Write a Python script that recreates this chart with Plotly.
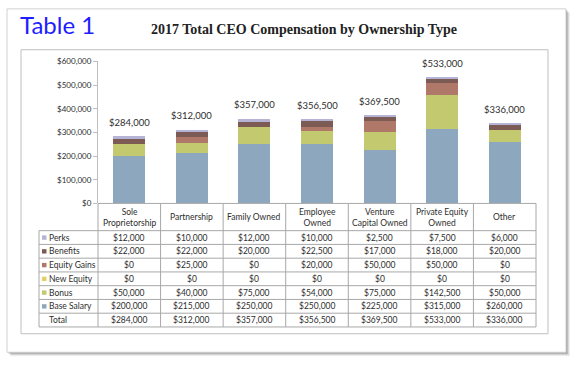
import plotly.graph_objects as go

W, H = 574, 366

categories = ["Sole Proprietorship", "Partnership", "Family Owned", "Employee Owned",
              "Venture Capital Owned", "Private Equity Owned", "Other"]
header_labels = ["Sole<br>Proprietorship", "Partnership", "Family Owned", "Employee<br>Owned",
                 "Venture<br>Capital Owned", "Private Equity<br>Owned", "Other"]

base_salary = [200000, 215000, 250000, 250000, 225000, 315000, 260000]
bonus = [50000, 40000, 75000, 54000, 75000, 142500, 50000]
new_equity = [0, 0, 0, 0, 0, 0, 0]
equity_gains = [0, 25000, 0, 20000, 50000, 50000, 0]
benefits = [22000, 22000, 20000, 22500, 17000, 18000, 20000]
perks = [12000, 10000, 12000, 10000, 2500, 7500, 6000]
totals = [284000, 312000, 357000, 356500, 369500, 533000, 336000]

y_ticks = [0, 100000, 200000, 300000, 400000, 500000, 600000]

series = [
    ("Base Salary", base_salary, "#8DA7BF"),
    ("Bonus", bonus, "#C3C96F"),
    ("New Equity", new_equity, "#E6CF6A"),
    ("Equity Gains", equity_gains, "#AF7868"),
    ("Benefits", benefits, "#7C5B55"),
    ("Perks", perks, "#B5B4D6"),
]

FONT = "Lato"
TXT = "#2e2e2e"
GRID = "#A8A8A8"


def px(x):
    return x / W


def py(y):
    return 1 - y / H


def money(v):
    return f"${v:,.0f}"


fig = go.Figure()

for name, vals, col in series:
    fig.add_trace(go.Bar(x=categories, y=vals, name=name, marker_color=col,
                         marker_line_width=0, width=0.51, showlegend=False))

for c, t in zip(categories, totals):
    fig.add_annotation(x=c, y=t, xref="x", yref="y", text=money(t), showarrow=False,
                       yshift=14, font=dict(family=FONT, size=9.5, color=TXT))

# ---- data table drawn under the plot ----
X_LEG, X0, X1 = 39, 98, 536
Y_HEAD_TOP, Y_HEAD_BOT = 204, 232
ROW_H = (331 - 232) / 7
row_order = [("Perks", perks), ("Benefits", benefits), ("Equity Gains", equity_gains),
             ("New Equity", new_equity), ("Bonus", bonus), ("Base Salary", base_salary)]
color_of = {n: c for n, _, c in series}

shapes = []
# card shadow + card
for i, op in enumerate([0.06, 0.09, 0.13, 0.18]):
    d = 4 - i
    shapes.append(dict(type="rect", xref="paper", yref="paper",
                       x0=px(7 + d), x1=px(566 + d), y0=py(357 + d), y1=py(4 + d),
                       fillcolor=f"rgba(0,0,0,{op})", line_width=0, layer="below"))
shapes.append(dict(type="rect", xref="paper", yref="paper",
                   x0=px(7), x1=px(566), y0=py(357), y1=py(4),
                   fillcolor="white", line=dict(color="#D0D0D0", width=1), layer="below"))
shapes.append(dict(type="rect", xref="paper", yref="paper",
                   x0=px(21), x1=px(548), y0=py(338), y1=py(46),
                   fillcolor="rgba(0,0,0,0)", line=dict(color="#BFBFBF", width=1), layer="below"))

col_w = (X1 - X0) / len(categories)
# header lines
shapes.append(dict(type="line", xref="paper", yref="paper", x0=px(X0), x1=px(X1),
                   y0=py(Y_HEAD_TOP), y1=py(Y_HEAD_TOP), line=dict(color=GRID, width=1)))
for k in range(len(categories) + 1):
    xx = X0 + k * col_w
    shapes.append(dict(type="line", xref="paper", yref="paper", x0=px(xx), x1=px(xx),
                       y0=py(Y_HEAD_TOP), y1=py(Y_HEAD_BOT + 7 * ROW_H),
                       line=dict(color=GRID, width=1)))
shapes.append(dict(type="line", xref="paper", yref="paper", x0=px(X_LEG), x1=px(X_LEG),
                   y0=py(Y_HEAD_BOT), y1=py(Y_HEAD_BOT + 7 * ROW_H),
                   line=dict(color=GRID, width=1)))
for r in range(8):
    yy = Y_HEAD_BOT + r * ROW_H
    shapes.append(dict(type="line", xref="paper", yref="paper", x0=px(X_LEG), x1=px(X1),
                       y0=py(yy), y1=py(yy), line=dict(color=GRID, width=1)))

# header text
for c, lab in zip(categories, header_labels):
    fig.add_annotation(x=c, xref="x", y=py((Y_HEAD_TOP + Y_HEAD_BOT) / 2), yref="paper",
                       text=lab, showarrow=False, xanchor="center", yanchor="middle",
                       font=dict(family=FONT, size=8.5, color=TXT))

rows = [(n, v, color_of[n]) for n, v in row_order] + [("Total", totals, None)]
for r, (name, vals, col) in enumerate(rows):
    ymid = Y_HEAD_BOT + (r + 0.5) * ROW_H
    yc = py(ymid)
    if col:
        shapes.append(dict(type="rect", xref="paper", yref="paper",
                           x0=px(42), x1=px(46.5), y0=py(ymid + 2.3), y1=py(ymid - 2.2),
                           fillcolor=col, line_width=0))
    fig.add_annotation(x=px(47), xref="paper", y=yc, yref="paper", text=name,
                       showarrow=False, xanchor="left", yanchor="middle",
                       font=dict(family=FONT, size=8.5, color=TXT))
    for c, v in zip(categories, vals):
        fig.add_annotation(x=c, xref="x", y=yc, yref="paper", text=money(v),
                           showarrow=False, xanchor="center", yanchor="middle",
                           font=dict(family=FONT, size=8.5, color=TXT))

fig.add_annotation(x=px(18), y=py(20), xref="paper", yref="paper", text="Table 1",
                   showarrow=False, xanchor="left", yanchor="middle",
                   font=dict(family=FONT, size=24, color="#1E1EFF"))
fig.add_annotation(x=px(304), y=py(25), xref="paper", yref="paper",
                   text="<b>2017 Total CEO Compensation by Ownership Type</b>",
                   showarrow=False, xanchor="center", yanchor="middle",
                   font=dict(family="Liberation Serif", size=14, color="#222222"))

fig.update_layout(
    width=W, height=H, autosize=False,
    margin=dict(l=0, r=0, t=0, b=0),
    paper_bgcolor="white", plot_bgcolor="rgba(0,0,0,0)",
    barmode="stack",
    shapes=shapes,
    xaxis=dict(domain=[px(X0), px(X1)], range=[-0.5, 6.5], showticklabels=False,
               showgrid=False, zeroline=False, showline=False, ticks=""),
    yaxis=dict(domain=[py(204), py(58)], range=[0, 600000], tickvals=y_ticks,
               tickformat="$,.0f", showgrid=False, zeroline=False,
               showline=True, linecolor="#BFBFBF", linewidth=1,
               ticks="outside", ticklen=4, tickcolor="#BFBFBF",
               tickfont=dict(family=FONT, size=8, color=TXT)),
)

fig.write_html("out.html", config={"displayModeBar": False},
               post_script="document.body.style.margin='0';document.body.style.overflow='hidden';")
